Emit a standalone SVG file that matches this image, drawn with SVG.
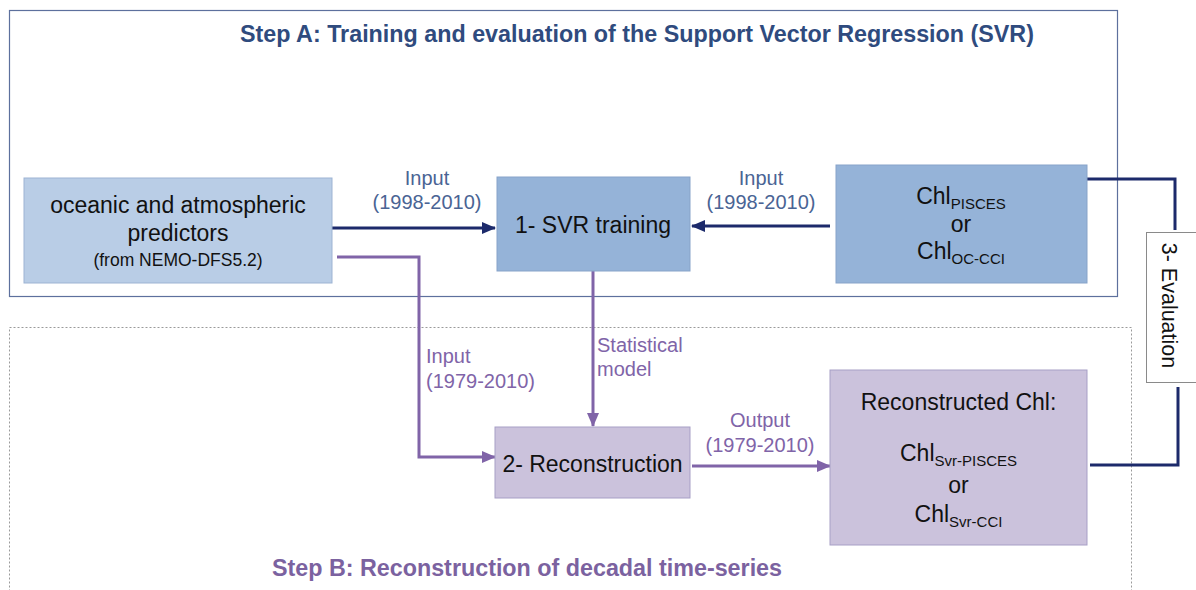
<svg xmlns="http://www.w3.org/2000/svg" width="1196" height="590" viewBox="0 0 1196 590">
<style>
text{font-family:"Liberation Sans",Arial,sans-serif;}
.node{font-size:23px;fill:#111;text-anchor:middle;}
.small{font-size:17.5px;}
.eval{font-size:21.5px;}
.sub{font-size:15px;}
.lblA{font-size:20px;fill:#4a6494;}
.lblB{font-size:20px;fill:#8064a8;}
.title{font-size:23.3px;font-weight:bold;text-anchor:middle;}
.navy{fill:none;stroke:#1c2a6b;stroke-width:3;}
.purple{fill:none;stroke:#8064a8;stroke-width:3;}
.blue1{fill:#b9cde6;stroke:#9db3d3;stroke-width:1;}
.blue2{fill:#95b3d8;stroke:#87a3c9;stroke-width:1;}
.lav{fill:#cbc2dc;stroke:#a79fc6;stroke-width:1;}
</style>
<defs>
<marker id="ahNavy" markerUnits="userSpaceOnUse" markerWidth="14" markerHeight="14" viewBox="0 0 14 14" refX="13" refY="7" orient="auto">
<path d="M0,1 L14,7 L0,13 Z" fill="#1c2a6b"/>
</marker>
<marker id="ahPurple" markerUnits="userSpaceOnUse" markerWidth="14" markerHeight="14" viewBox="0 0 14 14" refX="13" refY="7" orient="auto">
<path d="M0,1 L14,7 L0,13 Z" fill="#8064a8"/>
</marker>
</defs>
<rect width="1196" height="590" fill="#ffffff"/>

<g id="stepA">
<rect x="9.5" y="10.5" width="1108" height="286" fill="none" stroke="#5d709d" stroke-width="1.2"/>
<text class="title" x="637" y="42" fill="#2f4b7e">Step A: Training and evaluation of the Support Vector Regression (SVR)</text>
</g>

<g id="stepB">
<rect x="9.5" y="327.5" width="1122" height="280" fill="none" stroke="#9a9a9a" stroke-width="1" stroke-dasharray="2,2"/>
<text class="title" x="527" y="576" fill="#7b62a0">Step B: Reconstruction of decadal time-series</text>
</g>

<g id="connectors">
<line class="navy" x1="332" y1="228" x2="495" y2="228" marker-end="url(#ahNavy)"/>
<line class="navy" x1="830" y1="226" x2="692" y2="226" marker-end="url(#ahNavy)"/>
<polyline class="navy" points="1087,179 1175,179 1175,230"/>
<polyline class="navy" points="1178,387 1178,465 1090,465"/>
<polyline class="purple" points="337,257 419,257 419,457 495,457" marker-end="url(#ahPurple)"/>
<line class="purple" x1="593" y1="271" x2="593" y2="426" marker-end="url(#ahPurple)"/>
<line class="purple" x1="692" y1="466" x2="830" y2="466" marker-end="url(#ahPurple)"/>
<text class="lblA" x="427" y="185" text-anchor="middle">Input</text>
<text class="lblA" x="427" y="209" text-anchor="middle">(1998-2010)</text>
<text class="lblA" x="761" y="185" text-anchor="middle">Input</text>
<text class="lblA" x="761" y="209" text-anchor="middle">(1998-2010)</text>
<text class="lblB" x="426" y="363">Input</text>
<text class="lblB" x="426" y="388">(1979-2010)</text>
<text class="lblB" x="597" y="352">Statistical</text>
<text class="lblB" x="597" y="376">model</text>
<text class="lblB" x="760" y="427" text-anchor="middle">Output</text>
<text class="lblB" x="760" y="452" text-anchor="middle">(1979-2010)</text>
</g>

<g id="predictors">
<rect class="blue1" x="24" y="178" width="308" height="105"/>
<text class="node" x="178" y="213">oceanic and atmospheric</text>
<text class="node" x="178" y="241">predictors</text>
<text class="node small" x="178" y="266">(from NEMO-DFS5.2)</text>
</g>

<g id="svr-training">
<rect class="blue2" x="497" y="177" width="193" height="94"/>
<text class="node" x="593" y="233">1- SVR training</text>
</g>

<g id="chl-obs">
<rect class="blue2" x="836" y="165" width="251" height="118"/>
<text class="node" x="961" y="204">Chl<tspan class="sub" dy="5">PISCES</tspan></text>
<text class="node" x="961" y="232">or</text>
<text class="node" x="961" y="259">Chl<tspan class="sub" dy="5">OC-CCI</tspan></text>
</g>

<g id="evaluation">
<rect x="1146.5" y="232.5" width="60" height="150" fill="#ffffff" stroke="#8a8a8a" stroke-width="1"/>
<text class="node eval" transform="translate(1162,305.5) rotate(90)" x="0" y="0">3- Evaluation</text>
</g>

<g id="reconstruction">
<rect class="lav" x="495" y="427" width="195" height="71"/>
<text class="node" x="592.5" y="472">2- Reconstruction</text>
</g>

<g id="reconstructed-chl">
<rect class="lav" x="830" y="370" width="257" height="175"/>
<text class="node" x="958.5" y="410">Reconstructed Chl:</text>
<text class="node" x="958.5" y="461">Chl<tspan class="sub" dy="5">Svr-PISCES</tspan></text>
<text class="node" x="958.5" y="493">or</text>
<text class="node" x="958.5" y="522">Chl<tspan class="sub" dy="5">Svr-CCI</tspan></text>
</g>
</svg>
